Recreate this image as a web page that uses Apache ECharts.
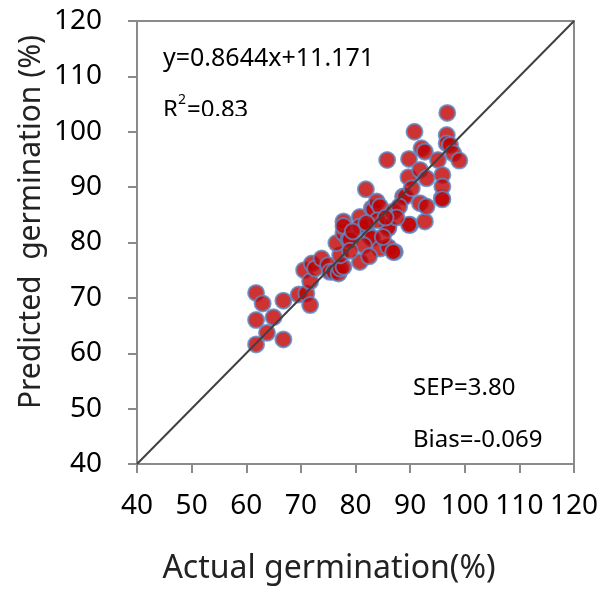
<!DOCTYPE html>
<html>
<head>
<meta charset="utf-8">
<script src="https://cdn.jsdelivr.net/npm/echarts@6/dist/echarts.min.js"></script>
<style>
  html, body { margin: 0; padding: 0; background: #fff; }
  #main { width: 603px; height: 591px; }
</style>
</head>
<body>
<div id="main"></div>
<script>
// actual vs predicted germination (%)
var actual = [61.8, 63.0, 66.8, 61.8, 65.0, 63.8, 61.8, 66.8,
  69.6, 71.0, 71.7, 70.6, 71.7, 72.0, 72.6, 73.8, 75.0, 75.3, 76.0, 76.9,
  77.2, 77.8, 77.2, 76.5, 77.8, 77.8, 77.8, 78.7, 79.0, 80.8, 80.8, 80.8,
  81.9, 82.0, 82.7, 83.0, 83.0, 83.3, 83.9, 84.5, 84.5, 85.8, 86.0, 86.0,
  86.0, 86.9, 87.2, 86.9, 88.7, 89.1, 89.7, 89.8, 90.0, 89.8, 90.3, 90.8,
  91.8, 91.8, 92.1, 92.7, 92.7, 93.0, 93.0, 95.1, 95.8, 95.9, 95.9, 95.9,
  96.7, 96.7, 96.8, 97.3, 97.9, 99.0, 84.0, 85.0, 81.5, 79.5, 88.0, 87.5,
  82.0, 85.5, 79.0, 82.5];
var predicted = [70.9, 69.0, 69.5, 66.0, 66.5, 63.7, 61.6, 62.5,
  70.6, 70.8, 68.7, 75.0, 73.0, 76.2, 75.3, 77.1, 75.9, 74.7, 74.7, 74.4,
  75.3, 75.6, 77.7, 79.9, 81.7, 83.8, 83.0, 80.5, 80.5, 84.6, 82.9, 76.5,
  89.6, 82.9, 81.1, 80.8, 86.2, 86.0, 87.4, 78.9, 86.5, 94.9, 82.6, 79.2,
  82.7, 85.6, 78.3, 78.3, 88.3, 88.3, 91.8, 95.1, 83.2, 83.2, 89.8, 100.0,
  87.1, 93.1, 97.0, 96.4, 83.8, 91.6, 86.5, 94.9, 88.0, 92.2, 90.1, 87.8,
  99.4, 97.9, 103.4, 97.6, 96.1, 94.8, 84.0, 81.0, 79.5, 82.0, 86.5, 84.5,
  83.5, 84.5, 78.5, 77.5];
var refLine = [[40, 40], [120, 120]];
var tickMin = 40, tickMax = 120, tickStep = 10;

var points = actual.map(function (a, i) { return [a, predicted[i]]; });

var chart = echarts.init(document.getElementById('main'));
var tickFont = { fontFamily: 'Noto Sans', fontSize: 28, color: '#000' };
var noteFont = { fontFamily: 'Noto Sans', fontSize: 24, fill: '#000' };

chart.setOption({
  animation: false,
  grid: {
    left: 137, top: 21, width: 437, height: 443,
    show: true, borderColor: '#8a8a8a', borderWidth: 2
  },
  xAxis: {
    type: 'value', min: tickMin, max: tickMax, interval: tickStep,
    axisLine: { lineStyle: { color: '#8a8a8a', width: 2 } },
    axisTick: { show: true, length: 9, lineStyle: { color: '#8a8a8a', width: 2 } },
    axisLabel: Object.assign({ margin: 28 }, tickFont),
    splitLine: { show: false }
  },
  yAxis: {
    type: 'value', min: tickMin, max: tickMax, interval: tickStep,
    axisLine: { lineStyle: { color: '#8a8a8a', width: 2 } },
    axisTick: { show: true, length: 9, lineStyle: { color: '#8a8a8a', width: 2 } },
    axisLabel: Object.assign({ margin: 35 }, tickFont),
    splitLine: { show: false }
  },
  series: [{
    type: 'line',
    data: refLine,
    symbol: 'none',
    lineStyle: { color: '#404040', width: 2 },
    z: 3
  }, {
    type: 'scatter',
    data: points,
    symbolSize: 16,
    itemStyle: { color: '#c00000', borderColor: '#5b8ac6', borderWidth: 2 },
    z: 2
  }],
  graphic: [
    // axis titles placed by hand: both sit off the grid's centre in the original
    { type: 'text', x: 329, y: 569,
      style: { text: 'Actual germination(%)', fontFamily: 'Noto Sans', fontSize: 32, fill: '#222', align: 'center', verticalAlign: 'middle' } },
    { type: 'text', x: 31, y: 222, rotation: Math.PI / 2,
      style: { text: 'Predicted  germination (%)', fontFamily: 'Noto Sans', fontSize: 30, fill: '#222', align: 'center', verticalAlign: 'middle' } },
    { type: 'text', left: 163, top: 46, style: { text: 'y=0.8644x+11.171', fontFamily: 'Noto Sans', fontSize: 25, fill: '#000' } },
    { type: 'text', left: 163, top: 98, style: Object.assign({ text: 'R' }, noteFont) },
    { type: 'text', left: 178, top: 93, style: { text: '2', fontFamily: 'Noto Sans', fontSize: 14, fill: '#000' } },
    { type: 'text', left: 187, top: 98, style: Object.assign({ text: '=0.83' }, noteFont) },
    { type: 'rect', left: 158, top: 116, shape: { width: 110, height: 18 }, style: { fill: '#fff' }, z: 10 },
    { type: 'text', left: 413, top: 376, style: Object.assign({ text: 'SEP=3.80' }, noteFont) },
    { type: 'text', left: 413, top: 428, style: Object.assign({ text: 'Bias=-0.069' }, noteFont) }
  ]
});
</script>
</body>
</html>
